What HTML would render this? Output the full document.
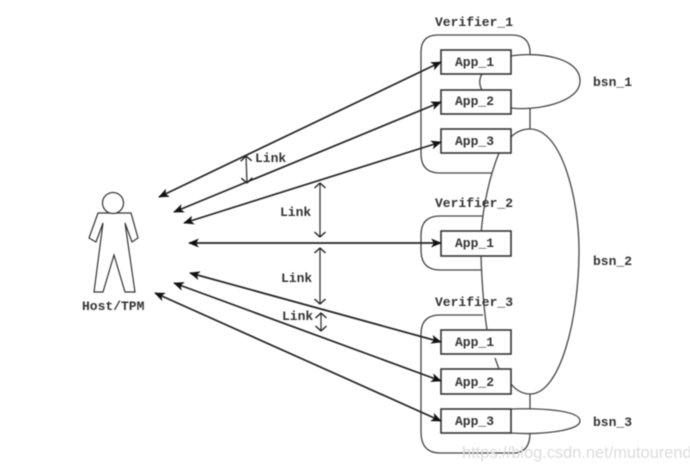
<!DOCTYPE html>
<html>
<head>
<meta charset="utf-8">
<style>
html,body{margin:0;padding:0;background:#fff;width:690px;height:470px;overflow:hidden}
svg{display:block;filter:blur(0.45px)}
.t{font-family:"Liberation Mono",monospace;font-size:13px;font-weight:bold;fill:#333}
</style>
</head>
<body>
<svg width="690" height="470" viewBox="0 0 690 470" xmlns="http://www.w3.org/2000/svg">
<rect width="690" height="470" fill="#fff"/>
<defs>
<marker id="h" viewBox="0 0 12 10" refX="11" refY="5" markerWidth="11" markerHeight="9" markerUnits="userSpaceOnUse" orient="auto-start-reverse">
<path d="M0 0L12 5L0 10L3 5Z" fill="#111"/>
</marker>
<marker id="o" viewBox="0 0 10 12" refX="9.5" refY="6" markerWidth="10" markerHeight="12" markerUnits="userSpaceOnUse" orient="auto-start-reverse">
<path d="M4.5 0.5L9.5 6L4.5 11.5" fill="none" stroke="#222" stroke-width="1.4"/>
</marker>
</defs>

<g fill="none" stroke="#444" stroke-width="1.3">
<path d="M530 54V50Q528 35 512 35H438Q421 35 421 52V154Q421 173 440 173H492"/>
<path d="M483 216H440Q421 216 421 235V250Q421 270 440 270H481"/>
<path d="M483 315H440Q421 315 421 334V432Q421 453 440 453H516Q530 451 530 433"/>
<path d="M511 56C535 52 580 56 580 81C580 103 535 111 511 108"/>
<path d="M482 74C479 79 479 85 482 90"/>
<path d="M530 108V129"/>
<path d="M511 137C516 132 522 129 530 129C562 129 579 200 579 250C579 320 560 394 530 394C522 394 516 390 511 384"/>
<path d="M499 153C490 175 483 205 481 235V256C482 285 484 310 487 330"/>
<path d="M495 358L499 369"/>
<path d="M530 394V409"/>
<path d="M511 409C540 408 580 410 580 421C580 431 540 435 511 433"/>
</g>

<g fill="#fff" stroke="#333" stroke-width="1.6">
<rect x="441" y="50" width="70" height="24"/>
<rect x="441" y="90" width="70" height="24"/>
<rect x="441" y="129" width="70" height="24"/>
<rect x="441" y="231" width="70" height="25"/>
<rect x="441" y="330" width="70" height="24"/>
<rect x="441" y="369" width="70" height="25"/>
<rect x="441" y="409" width="70" height="24"/>
</g>

<g fill="none" stroke="#222" stroke-width="1.7" marker-start="url(#h)" marker-end="url(#h)">
<line x1="159" y1="197" x2="441" y2="62"/>
<line x1="174" y1="212" x2="441" y2="102"/>
<line x1="184" y1="223" x2="441" y2="142"/>
<line x1="189" y1="243" x2="441" y2="243"/>
<line x1="190" y1="273" x2="441" y2="342"/>
<line x1="174" y1="283" x2="441" y2="381"/>
<line x1="155" y1="293" x2="441" y2="421"/>
</g>

<g fill="none" stroke="#333" stroke-width="1.3" marker-start="url(#o)" marker-end="url(#o)">
<line x1="246" y1="156" x2="247" y2="183"/>
<line x1="320" y1="183" x2="320" y2="237"/>
<line x1="320" y1="248" x2="320" y2="304"/>
<line x1="321" y1="313" x2="321" y2="331"/>
</g>

<g fill="#fff" stroke="#333" stroke-width="1.2">
<path d="M98 213H131L138 238L132 242L125 223L135 292H125L114 255L103 292H94L103 223L96 242L89 238Z"/>
<circle cx="113" cy="203" r="10.5"/>
</g>

<g class="t">
<text class="t" x="435" y="26">Verifier_1</text>
<text class="t" x="435" y="207">Verifier_2</text>
<text class="t" x="435" y="306">Verifier_3</text>
<text class="t" x="455" y="66">App_1</text>
<text class="t" x="455" y="105">App_2</text>
<text class="t" x="455" y="145">App_3</text>
<text class="t" x="455" y="247">App_1</text>
<text class="t" x="455" y="346">App_1</text>
<text class="t" x="455" y="386">App_2</text>
<text class="t" x="455" y="425">App_3</text>
<text class="t" x="593" y="86">bsn_1</text>
<text class="t" x="593" y="265">bsn_2</text>
<text class="t" x="593" y="426">bsn_3</text>
<text class="t" x="255" y="162">Link</text>
<text class="t" x="280" y="216">Link</text>
<text class="t" x="281" y="282">Link</text>
<text class="t" x="282" y="320">Link</text>
<text class="t" x="82" y="310">Host/TPM</text>
</g>

<text x="462" y="458" font-family="'Liberation Sans',sans-serif" font-size="16.4" fill="#dcdcdc">https://blog.csdn.net/mutourend</text>
</svg>
</body>
</html>
